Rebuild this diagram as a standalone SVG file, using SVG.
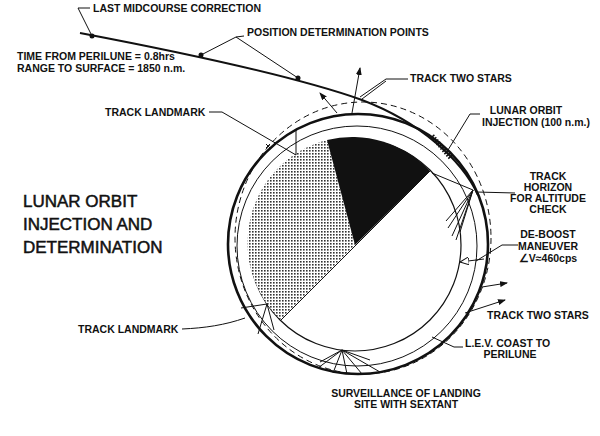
<svg xmlns="http://www.w3.org/2000/svg" width="600" height="436" viewBox="0 0 600 436">
<style>
text{font-family:"Liberation Sans",Arial,sans-serif;font-weight:bold;font-size:10.5px;fill:#111}
.t{font-size:17px;font-weight:normal;stroke:#111;stroke-width:0.5}
.l{fill:none;stroke:#111;stroke-width:1}
.k{fill:none;stroke:#111;stroke-width:2.6}
</style>
<defs>
<pattern id="dots" width="3" height="3" patternUnits="userSpaceOnUse"><rect width="3" height="3" fill="#fff"/><rect width="1.6" height="1.6" fill="#333"/></pattern>
<marker id="ar" markerWidth="8" markerHeight="6" refX="7" refY="3" orient="auto" markerUnits="userSpaceOnUse"><path d="M0,0L8,3L0,6z" fill="#111"/></marker>
<marker id="ho" markerWidth="10" markerHeight="8" refX="9" refY="4" orient="auto" markerUnits="userSpaceOnUse"><path d="M0,0L9,4L0,8z" fill="#fff" stroke="#111"/></marker>
</defs>
<rect width="600" height="436" fill="#fff"/>
<g id="moon">
<circle cx="355" cy="245" r="106" fill="#fff" stroke="#111" stroke-width="1.2"/>
<path d="M355,245 L327,140 A106,106 0 0 0 281,320 Z" fill="url(#dots)"/>
<path d="M355,245 L327,140 A106,106 0 0 1 430,171 Z" fill="#111"/>
<line x1="281" y1="320" x2="430" y2="171" class="l"/>
</g>
<g id="orbit">
<circle cx="358" cy="244" r="130" class="k"/>
<circle cx="357" cy="246" r="120" class="l"/>
<ellipse cx="363" cy="238" rx="128" ry="136" class="l" stroke-dasharray="6,4"/>
<path d="M432,136 L451,158" stroke="#111" stroke-width="5" stroke-dasharray="1.5,1.5"/>
</g>
<g id="connectors">
<path d="M80,33 C180,52 300,78 362,100 C420,122 462,160 478,195" fill="none" stroke="#111" stroke-width="2"/>
<circle cx="92" cy="36" r="2.5" fill="#111"/><circle cx="201" cy="55" r="2.5" fill="#111"/><circle cx="298" cy="78" r="2.5" fill="#111"/>
<path d="M90,8 H78 L92,36" class="l"/>
<path d="M244,36 L236,37 L201,55 M236,37 L298,78" class="l"/>
<path d="M408,79 H386 L360,97 M386,81 L362,99" class="l"/>
<path d="M352,113 L360,68" class="l" marker-end="url(#ar)"/>
<path d="M337,113 L320,93" class="l" marker-end="url(#ar)"/>
<path d="M209,112 H222 L296,155 M296,129 V155" class="l" stroke-width="1.3"/>
<path d="M266,144 l4,4 m0,-4 l-4,4" class="l"/>
<path d="M480,114 H470 L448,150" class="l"/>
<path d="M432,173 L473,190 M473,190 L446,221 M473,190 L448,228 M473,190 L452,236 M473,190 L456,240 M473,190 L460,232" class="l"/>
<path d="M515,193 L476,192" class="l"/>
<path d="M518,245 H502 L476,261" class="l"/>
<path d="M484,259 L460,262" class="l" marker-end="url(#ho)"/>
<path d="M482,287 L507,283" class="l" marker-end="url(#ar)"/>
<path d="M465,313 L505,300" class="l" marker-end="url(#ar)"/>
<path d="M182,329 C205,328 225,325 245,318" class="l"/>
<path d="M241,308 L267,304 L258,334 M267,304 L274,330" class="l" stroke-width="1.3"/>
<path d="M463,347 H454 L432,337" class="l"/>
<path d="M342,350 L318,368 M342,350 L333,373 M342,350 L347,374 M342,350 L362,374 M342,350 L380,372 M342,350 L320,362 M342,350 L370,360" class="l"/>
</g>
<g id="labels">
<text x="93" y="12">LAST MIDCOURSE CORRECTION</text>
<text x="247" y="36">POSITION DETERMINATION POINTS</text>
<text x="17" y="60">TIME FROM PERILUNE = 0.8hrs</text>
<text x="17" y="72">RANGE TO SURFACE = 1850 n.m.</text>
<text x="410" y="82">TRACK TWO STARS</text>
<text x="105" y="116">TRACK LANDMARK</text>
<text x="526" y="114" text-anchor="middle">LUNAR ORBIT</text>
<text x="482" y="126">INJECTION (100 n.m.)</text>
<text x="548" y="180" text-anchor="middle">TRACK</text>
<text x="548" y="191" text-anchor="middle">HORIZON</text>
<text x="548" y="202" text-anchor="middle">FOR ALTITUDE</text>
<text x="548" y="213" text-anchor="middle">CHECK</text>
<text x="548" y="238" text-anchor="middle">DE-BOOST</text>
<text x="548" y="250" text-anchor="middle">MANEUVER</text>
<text x="548" y="262" text-anchor="middle">∠V≈460cps</text>
<text x="487" y="319">TRACK TWO STARS</text>
<text x="78" y="333">TRACK LANDMARK</text>
<text x="465" y="347">L.E.V. COAST TO</text>
<text x="510" y="358" text-anchor="middle">PERILUNE</text>
<text x="406" y="397" text-anchor="middle">SURVEILLANCE OF LANDING</text>
<text x="406" y="408" text-anchor="middle">SITE WITH SEXTANT</text>
<text class="t" x="23" y="207">LUNAR ORBIT</text>
<text class="t" x="23" y="230">INJECTION AND</text>
<text class="t" x="23" y="253">DETERMINATION</text>
</g>
</svg>
